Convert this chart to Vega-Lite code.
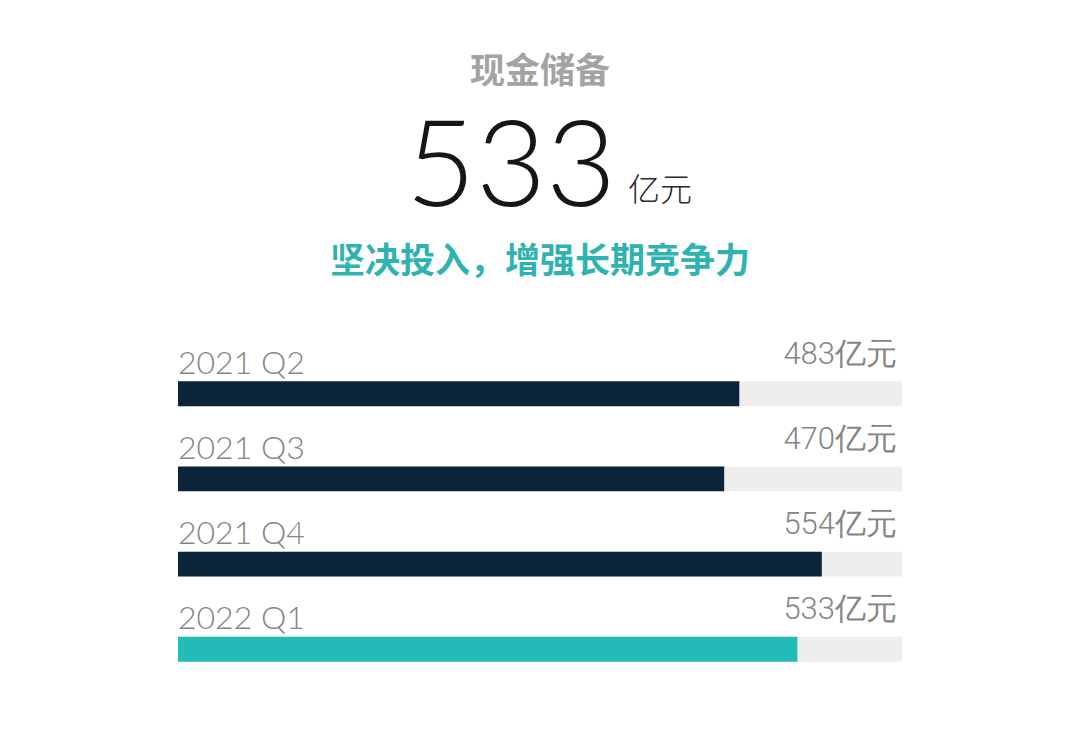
{
  "$schema": "https://vega.github.io/schema/vega-lite/v6.json",
  "background": "white",
  "padding": {"left": 178, "top": 55, "right": 177, "bottom": 0},
  "title": {
    "text": "现金储备",
    "font": "Noto Sans CJK SC",
    "fontSize": 35,
    "fontWeight": "bold",
    "color": "#a3a3a3",
    "anchor": "middle",
    "offset": 8
  },
  "config": {"view": {"stroke": null}, "concat": {"spacing": 15}},
  "vconcat": [
    {
      "width": 724,
      "height": 115,
      "data": {"values": [{"amount": "533", "unit": "亿元"}]},
      "layer": [
        {
          "mark": {"type": "text", "font": "Lato", "fontWeight": 300, "fontSize": 121, "color": "#161616", "baseline": "alphabetic", "align": "center", "dx": -29, "dy": 50},
          "encoding": {"text": {"field": "amount"}}
        },
        {
          "mark": {"type": "text", "font": "Noto Sans CJK SC", "fontWeight": 300, "fontSize": 32, "color": "#2a2a2a", "baseline": "alphabetic", "align": "left", "dx": 88, "dy": 45},
          "encoding": {"text": {"field": "unit"}}
        }
      ]
    },
    {
      "width": 724,
      "height": 371,
      "title": {
        "text": "坚决投入，增强长期竞争力",
        "font": "Noto Sans CJK SC",
        "fontSize": 35,
        "fontWeight": "bold",
        "color": "#2fb3b2",
        "anchor": "middle",
        "offset": 56
      },
      "data": {
        "values": [
          {"quarter": "2021 Q2", "value": 483, "label": "483亿元"},
          {"quarter": "2021 Q3", "value": 470, "label": "470亿元"},
          {"quarter": "2021 Q4", "value": 554, "label": "554亿元"},
          {"quarter": "2022 Q1", "value": 533, "label": "533亿元"}
        ]
      },
      "encoding": {
        "y": {
          "field": "quarter",
          "type": "nominal",
          "sort": null,
          "axis": null,
          "scale": {"paddingInner": 0.707, "paddingOuter": 0.53}
        }
      },
      "layer": [
        {
          "mark": {"type": "bar", "color": "#eeeeee"},
          "encoding": {
            "x": {"datum": 623, "type": "quantitative", "scale": {"domain": [0, 623], "nice": false}, "axis": null}
          }
        },
        {
          "mark": "bar",
          "encoding": {
            "x": {"field": "value", "type": "quantitative"},
            "color": {
              "field": "quarter",
              "type": "nominal",
              "scale": {"domain": ["2021 Q2", "2021 Q3", "2021 Q4", "2022 Q1"], "range": ["#0b2439", "#0b2439", "#0b2439", "#22bbb7"]},
              "legend": null
            }
          }
        },
        {
          "mark": {"type": "text", "font": "Lato", "fontWeight": 300, "fontSize": 32, "color": "#858585", "baseline": "alphabetic", "align": "left", "dy": -20},
          "encoding": {"x": {"datum": 0, "type": "quantitative"}, "text": {"field": "quarter"}}
        },
        {
          "mark": {"type": "text", "font": "Roboto", "fontWeight": 300, "fontSize": 31, "color": "#858585", "baseline": "alphabetic", "align": "right", "dx": -5, "dy": -30},
          "encoding": {"x": {"datum": 623, "type": "quantitative"}, "text": {"field": "label"}}
        }
      ]
    }
  ]
}
